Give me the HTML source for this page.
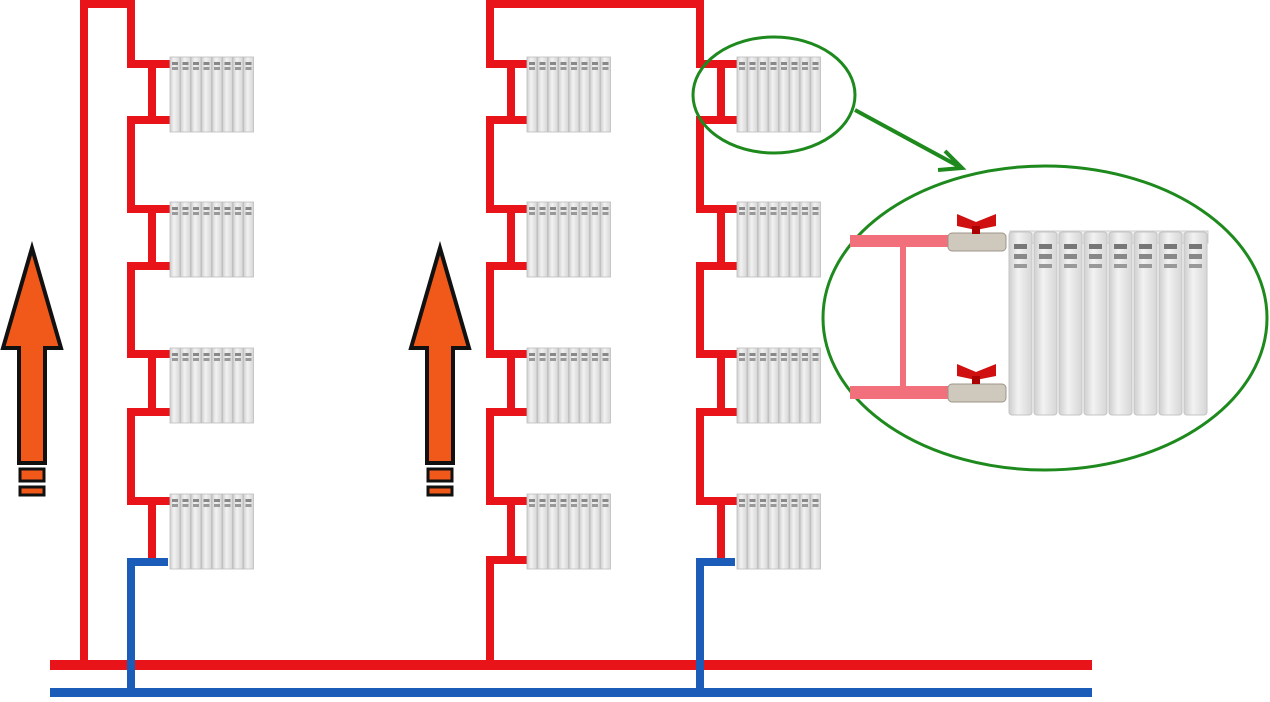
<!DOCTYPE html>
<html><head><meta charset="utf-8"><style>html,body{margin:0;padding:0;background:#fff}svg{display:block}</style></head><body>
<svg width="1270" height="702" viewBox="0 0 1270 702" xmlns="http://www.w3.org/2000/svg">
<defs>
<linearGradient id="sg" x1="0" x2="1"><stop offset="0" stop-color="#cfcfcf"/><stop offset=".4" stop-color="#f2f2f2"/><stop offset="1" stop-color="#d6d6d6"/></linearGradient>
<g id="sec"><rect x="0" y="0" width="10" height="75" fill="url(#sg)" stroke="#bdbdbd" stroke-width="0.8"/><rect x="2" y="5" width="6" height="3" fill="#888"/><rect x="2" y="10" width="6" height="3" fill="#999"/></g>
<g id="rad"><use href="#sec" x="0"/><use href="#sec" x="10.5"/><use href="#sec" x="21"/><use href="#sec" x="31.5"/><use href="#sec" x="42"/><use href="#sec" x="52.5"/><use href="#sec" x="63"/><use href="#sec" x="73.5"/></g>
<g id="bsec"><rect x="0" y="0" width="23" height="183" rx="3" fill="url(#sg)" stroke="#c4c4c4"/><rect x="5" y="12" width="13" height="5" fill="#777"/><rect x="5" y="22" width="13" height="5" fill="#888"/><rect x="5" y="32" width="13" height="4" fill="#999"/></g>
<g id="arrow"><path d="M29 3 L58 103 L42 103 L42 218 L16 218 L16 103 L0 103 Z" fill="#f0591a" stroke="#111" stroke-width="4" stroke-linejoin="miter"/><rect x="17" y="224" width="24" height="12" fill="#f0591a" stroke="#111" stroke-width="3"/><rect x="17" y="242" width="24" height="8" fill="#f0591a" stroke="#111" stroke-width="3"/></g>
</defs>

<!-- arrows -->
<use href="#arrow" x="3" y="245"/>
<use href="#arrow" x="411" y="245"/>

<g fill="none" stroke="#e8141a" stroke-width="8" stroke-linecap="square" stroke-linejoin="miter">
<!-- left column -->
<path d="M84 665 V4 H131 V64 H168"/>
<path d="M168 120 H131 V209 H168"/>
<path d="M168 266 H131 V354 H168"/>
<path d="M168 412 H131 V501 H168"/>
<path d="M152 64 V120 M152 209 V266 M152 354 V412 M152 501 V558"/>
<!-- middle column -->
<path d="M524 64 H490 V4 H700 V64 H735"/>
<path d="M524 120 H490 V209 H524 M524 266 H490 V354 H524 M524 412 H490 V501 H524 M524 560 H490 V665"/>
<path d="M511 64 V120 M511 209 V266 M511 354 V412 M511 501 V560"/>
<path d="M735 120 H700 V209 H735 M735 266 H700 V354 H735 M735 412 H700 V501 H735"/>
<path d="M721 64 V120 M721 209 V266 M721 354 V412 M721 501 V558"/>
</g>
<g fill="none" stroke="#1a5cb8" stroke-width="8" stroke-linejoin="miter">
<path d="M168 562 H131 V692"/>
<path d="M735 562 H700 V692"/>
</g>
<rect x="50" y="660" width="1042" height="10" fill="#e8141a"/>
<rect x="50" y="688" width="1042" height="9" fill="#1a5cb8"/>
<rect x="127" y="660" width="8" height="32" fill="#1a5cb8"/>
<rect x="696" y="660" width="8" height="32" fill="#1a5cb8"/>

<!-- radiators -->
<use href="#rad" x="170" y="57"/><use href="#rad" x="170" y="202"/><use href="#rad" x="170" y="348"/><use href="#rad" x="170" y="494"/>
<use href="#rad" x="527" y="57"/><use href="#rad" x="527" y="202"/><use href="#rad" x="527" y="348"/><use href="#rad" x="527" y="494"/>
<use href="#rad" x="737" y="57"/><use href="#rad" x="737" y="202"/><use href="#rad" x="737" y="348"/><use href="#rad" x="737" y="494"/>

<!-- green callouts -->
<ellipse cx="774" cy="95" rx="81" ry="58" fill="none" stroke="#1e8a1e" stroke-width="3"/>
<path d="M855 110 L960 167 M945 151 L962 168 L938 170" fill="none" stroke="#1e8a1e" stroke-width="4"/>
<ellipse cx="1045" cy="318" rx="222" ry="152" fill="none" stroke="#1e8a1e" stroke-width="3"/>

<!-- detail -->
<g fill="#f2707c">
<rect x="850" y="235" width="110" height="12"/>
<rect x="850" y="386" width="110" height="13"/>
<rect x="900" y="247" width="6" height="140"/>
</g>
<g>
<rect x="948" y="233" width="58" height="18" rx="4" fill="#cfc8bc" stroke="#9c9488"/>
<rect x="948" y="384" width="58" height="18" rx="4" fill="#cfc8bc" stroke="#9c9488"/>
<path d="M957 214 L976 222 L996 214 L996 226 L976 230 L957 226 Z" fill="#d01010"/>
<rect x="972" y="226" width="8" height="8" fill="#a00"/>
<path d="M957 364 L976 372 L996 364 L996 376 L976 380 L957 376 Z" fill="#d01010"/>
<rect x="972" y="376" width="8" height="8" fill="#a00"/>
</g>
<rect x="1010" y="231" width="198" height="12" fill="#eee" stroke="#ccc"/>
<use href="#bsec" x="1009" y="232"/><use href="#bsec" x="1034" y="232"/><use href="#bsec" x="1059" y="232"/><use href="#bsec" x="1084" y="232"/><use href="#bsec" x="1109" y="232"/><use href="#bsec" x="1134" y="232"/><use href="#bsec" x="1159" y="232"/><use href="#bsec" x="1184" y="232"/>
</svg>
</body></html>
